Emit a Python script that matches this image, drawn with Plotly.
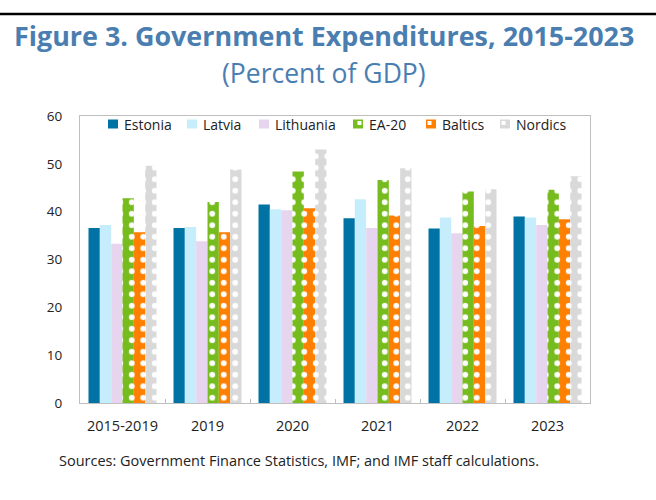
import plotly.graph_objects as go

categories = ["2015-2019", "2019", "2020", "2021", "2022", "2023"]
estonia   = [36.6, 36.6, 41.5, 38.6, 36.5, 39.0]
latvia    = [37.2, 36.8, 40.5, 42.6, 38.8, 38.8]
lithuania = [33.3, 33.8, 40.3, 36.6, 35.5, 37.2]
ea20      = [42.8, 42.0, 48.4, 46.6, 44.2, 44.6]
baltics   = [35.7, 35.7, 40.7, 39.2, 37.0, 38.4]
nordics   = [49.6, 48.8, 53.0, 49.1, 44.7, 47.4]

names    = ["Estonia", "Latvia", "Lithuania", "EA-20", "Baltics", "Nordics"]
values   = [estonia, latvia, lithuania, ea20, baltics, nordics]
colors   = ["#0073A4", "#C6EDFB", "#E7D5F0", "#77BC1F", "#FF8000", "#D9D9D9"]
patterned = [False, False, False, True, True, True]

W, H = 656, 500
L, R, T, B = 80, 66, 116, 97
PW, PH = W - L - R, H - T - B

def px(x):
    return (x - L) / PW

def py(y):
    return (H - B - y) / PH

fig = go.Figure()
for name, vals, col, pat in zip(names, values, colors, patterned):
    marker = dict(color=col, line=dict(width=0))
    if pat:
        marker["pattern"] = dict(shape=".", fgcolor="white", bgcolor=col,
                                 size=11.5, solidity=0.2, fillmode="replace")
    fig.add_trace(go.Bar(name=name, x=categories, y=vals, marker=marker,
                         showlegend=False))

fig.update_layout(
    width=W, height=H,
    margin=dict(l=L, r=R, t=T, b=B, autoexpand=False),
    paper_bgcolor="white", plot_bgcolor="white",
    barmode="group", bargap=0.2, bargroupgap=0,
    font=dict(family="Open Sans, Noto Sans, sans-serif", color="#222", size=13),
    xaxis=dict(showline=True, mirror=True, linecolor="#BFBFBF", linewidth=1,
               ticks="inside", tickson="boundaries", ticklen=4, tickcolor="#BFBFBF",
               showgrid=False, tickfont=dict(size=14.5, color="#222"),
               ticklabelstandoff=10),
    yaxis=dict(range=[0, 60], dtick=10, showline=True, mirror=True,
               linecolor="#BFBFBF", linewidth=1, showgrid=False, zeroline=False,
               ticks="", tickfont=dict(size=13.5, color="#222"),
               ticklabelstandoff=14),
)

# legend drawn along the top of the plot area
legend_x = [108, 187, 259, 353, 426, 500]
for name, col, pat, mx in zip(names, colors, patterned, legend_x):
    fig.add_shape(type="rect", xref="paper", yref="paper",
                  x0=px(mx), x1=px(mx + 10), y0=py(128.5), y1=py(119.5),
                  fillcolor=col, line=dict(width=0))
    if pat:
        wx = mx + 4.5 if name == "EA-20" else mx + 1.5
        fig.add_shape(type="rect", xref="paper", yref="paper",
                      x0=px(wx), x1=px(wx + 4), y0=py(125), y1=py(121),
                      fillcolor="white", line=dict(width=0))
    fig.add_annotation(text=name, xref="paper", yref="paper",
                       x=px(mx + 13.5), y=py(124), xanchor="left", yanchor="middle",
                       showarrow=False, font=dict(size=14, color="#222"))

fig.add_annotation(text="<b>Figure 3. Government Expenditures, 2015-2023</b>",
                   xref="paper", yref="paper", x=px(323.5), y=py(35.5),
                   xanchor="center", yanchor="middle", showarrow=False,
                   font=dict(size=26.9, color="#4A7EB0"))
fig.add_annotation(text="(Percent of GDP)",
                   xref="paper", yref="paper", x=px(323.5), y=py(73),
                   xanchor="center", yanchor="middle", showarrow=False,
                   font=dict(size=26.5, color="#4A7EB0"))
fig.add_annotation(text="Sources: Government Finance Statistics, IMF; and IMF staff calculations.",
                   xref="paper", yref="paper", x=px(57), y=py(460),
                   xanchor="left", yanchor="middle", showarrow=False,
                   font=dict(size=14.5, color="#222"))
fig.add_shape(type="line", xref="paper", yref="paper",
              x0=px(0), x1=px(W), y0=py(14), y1=py(14),
              line=dict(color="black", width=2.5))

fig.write_html("out.html", config={"displayModeBar": False},
               post_script="document.body.style.margin='0';document.body.style.overflow='hidden';")
